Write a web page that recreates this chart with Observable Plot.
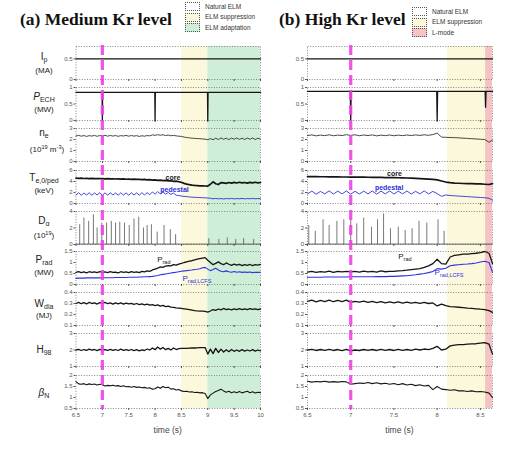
<!DOCTYPE html>
<html><head><meta charset="utf-8">
<script src="https://cdn.jsdelivr.net/npm/d3@7"></script>
<script src="https://cdn.jsdelivr.net/npm/@observablehq/plot@0.6"></script>
<style>
body{margin:0;background:#fff;}
#root{position:relative;width:515px;height:459px;overflow:hidden;background:#fff;}
.ylab{position:absolute;font-family:"Liberation Sans",Arial,sans-serif;color:#222;white-space:nowrap;transform:translate(-50%,-50%);line-height:1;}
.ylab.sym{font-size:10px;}
.ylab.unit{font-size:8px;}
.ylab sub{font-size:70%;vertical-align:-0.25em;line-height:0;}
.ylab sup{font-size:70%;vertical-align:0.45em;line-height:0;}
.title{position:absolute;font-family:"Liberation Serif",serif;font-weight:bold;font-size:17.5px;color:#111;white-space:nowrap;}
.xl{position:absolute;font-family:"Liberation Sans",sans-serif;font-size:8.5px;color:#444;transform:translateX(-50%);white-space:nowrap;}
.leg{position:absolute;font-family:"Liberation Sans",sans-serif;font-size:6.5px;color:#333;white-space:nowrap;}
.leg .box{position:absolute;left:0;width:15px;height:9px;border:1px dotted #555;box-sizing:border-box;}
.leg .txt{position:absolute;left:20px;top:0.5px;}
</style></head><body><div id="root"></div><script>
// ---------------- DATA ----------------
const timeL = [6.5,6.55,6.6,6.65,6.7,6.75,6.8,6.85,6.9,6.95,7,
7.05,7.1,7.15,7.2,7.25,7.3,7.35,7.4,7.45,7.5,
7.55,7.6,7.65,7.7,7.75,7.8,7.85,7.9,7.95,8,
8.05,8.1,8.15,8.2,8.25,8.3,8.35,8.4,8.45,8.5,
8.55,8.6,8.65,8.7,8.75,8.8,8.85,8.9,8.95,9,
9.05,9.1,9.15,9.2,9.25,9.3,9.35,9.4,9.45,9.5,
9.55,9.6,9.65,9.7,9.75,9.8,9.85,9.9,9.95,10];
const timeR = [6.5,6.55,6.6,6.65,6.7,6.75,6.8,6.85,6.9,6.95,7,
7.05,7.1,7.15,7.2,7.25,7.3,7.35,7.4,7.45,7.5,
7.55,7.6,7.65,7.7,7.75,7.8,7.85,7.9,7.95,8,
8.05,8.1,8.15,8.2,8.25,8.3,8.35,8.4,8.45,8.5,
8.55,8.6,8.64];

// Ip (MA)
const ipTimeL = [6.5,10], ipL = [0.5,0.5];
const ipTimeR = [6.5,8.64], ipR = [0.5,0.5];
// P_ECH (MW)
const pechTimeL = [6.5,6.995,7.0,7.005,7.995,8.0,8.005,8.995,9.0,9.005,10];
const pechL =     [0.85,0.85,0,0.85,0.85,0,0.85,0.85,0,0.85,0.85];
const pechTimeR = [6.5,6.995,7.0,7.005,7.995,8.0,8.005,8.555,8.56,8.565,8.64];
const pechR =     [0.88,0.88,0,0.88,0.88,0,0.88,0.88,0.4,0.88,0.88];

// n_e (1e19 m^-3)
const neL = [2.32,2.38,2.30,2.36,2.28,2.35,2.31,2.37,2.29,2.36,2.33,
2.38,2.30,2.37,2.31,2.36,2.29,2.35,2.32,2.37,2.30,
2.36,2.31,2.35,2.28,2.34,2.30,2.36,2.33,2.42,2.38,
2.44,2.39,2.43,2.36,2.40,2.34,2.37,2.33,2.30,2.28,
2.22,2.18,2.15,2.12,2.10,2.09,2.07,2.05,2.03,1.98,
2.08,1.98,2.12,2.00,2.14,2.02,2.12,1.99,2.13,2.02,
2.14,2.01,2.12,2.00,2.13,2.02,2.14,2.00,2.12,2.03];
const neR = [2.36,2.42,2.33,2.4,2.35,2.43,2.34,2.4,2.36,2.44,2.37,
2.43,2.34,2.41,2.36,2.42,2.33,2.4,2.35,2.41,2.34,
2.4,2.35,2.41,2.36,2.42,2.37,2.43,2.38,2.45,2.58,
2.22,2.2,2.18,2.17,2.15,2.12,2.1,2.07,2.05,2.02,
2.0,1.75,1.95];

// T_e core / pedestal (keV)
const teCoreL = [4.6,4.56,4.6,4.55,4.58,4.53,4.56,4.52,4.55,4.51,4.53,
4.48,4.51,4.46,4.49,4.45,4.47,4.43,4.46,4.41,4.44,
4.39,4.42,4.37,4.4,4.33,4.37,4.3,4.34,4.24,4.28,
4.2,4.24,4.15,4.19,4.1,4.13,4.03,4.06,3.96,3.85,
3.66,3.52,3.42,3.34,3.28,3.24,3.21,3.19,3.18,3.17,
3.5,3.95,3.6,3.45,3.8,3.75,3.65,3.82,3.7,3.85,
3.72,3.86,3.74,3.82,3.7,3.84,3.76,3.86,3.74,3.82];
const tePedL = [1.55,1.95,1.5,1.9,1.55,1.95,1.5,1.92,1.55,1.95,1.52,
1.93,1.5,1.95,1.55,1.9,1.5,1.95,1.52,1.92,1.5,
1.95,1.55,1.92,1.5,1.95,1.55,1.98,1.6,2.1,1.7,
2.15,1.75,2.1,1.7,2.0,1.65,1.9,1.5,1.45,1.35,
1.3,1.25,1.2,1.15,1.12,1.1,1.08,1.05,1.02,1.0,
0.95,0.85,0.92,0.85,0.9,0.82,0.9,0.85,0.92,0.84,
0.9,0.85,0.92,0.84,0.9,0.86,0.92,0.85,0.9,0.86];
const teCoreR = [4.9,4.88,4.88,4.86,4.86,4.85,4.84,4.84,4.82,4.82,4.8,
4.8,4.78,4.78,4.77,4.76,4.75,4.74,4.72,4.72,4.7,
4.68,4.66,4.64,4.6,4.56,4.52,4.48,4.44,4.38,4.3,
4.1,3.9,3.8,3.72,3.68,3.64,3.62,3.6,3.58,3.56,
3.5,3.45,3.6];
const tePedR = [1.75,2.25,1.7,2.2,1.75,2.3,1.72,2.25,1.75,2.28,1.7,
2.22,1.72,2.25,1.75,2.28,1.7,2.25,1.74,2.3,1.72,
2.25,1.75,2.28,1.72,2.22,1.75,2.3,1.75,2.2,1.8,
1.3,1.55,1.45,1.4,1.35,1.3,1.25,1.2,1.15,1.1,
1.05,0.95,0.6];

// D_alpha spikes
const daTimeL = [6.57,6.65,6.74,6.83,6.9,6.99,7.08,7.17,7.25,7.33,7.42,7.51,7.6,7.69,7.78,7.85,7.93,8.04,8.17,8.29,8.39,9.02,9.21,9.37,9.53,9.68,9.87];
const daL =     [2.4,3.2,2.8,3.6,2.0,2.6,2.6,2.8,2.6,2.7,2.6,2.3,3.1,3.3,2.0,2.3,2.4,1.5,2.3,1.8,1.2,0.7,0.6,0.8,0.6,0.7,0.6];
const daTimeR = [6.515,6.59,6.68,6.75,6.84,6.92,7.0,7.07,7.15,7.24,7.31,7.38,7.46,7.55,7.63,7.71,7.79,7.88,8.01,8.08];
const daR =     [2.3,1.6,3.0,2.3,2.8,3.0,2.9,2.5,3.2,2.1,3.0,3.7,1.9,2.1,1.7,1.9,2.8,2.6,3.0,1.6];
const daBaseTimeL = [6.5,10], daBaseL = [0.05,0.05];
const daBaseTimeR = [6.5,8.64], daBaseR = [0.05,0.05];

// P_rad and P_rad,LCFS (MW)
const pradL = [0.55,0.58,0.54,0.57,0.53,0.58,0.55,0.57,0.54,0.58,0.55,
0.57,0.54,0.58,0.55,0.56,0.53,0.58,0.55,0.57,0.54,
0.58,0.55,0.57,0.54,0.6,0.57,0.62,0.6,0.66,0.7,
0.74,0.8,0.78,0.84,0.86,0.85,0.9,0.88,0.93,0.96,
1.0,1.03,1.06,1.08,1.12,1.15,1.18,1.2,1.22,1.1,
1.0,0.9,0.96,1.03,0.95,0.9,0.98,0.92,0.87,0.93,
0.88,0.92,0.86,0.9,0.87,0.91,0.86,0.9,0.88,0.91];
const pradLcfsL = [0.28,0.29,0.29,0.29,0.3,0.3,0.3,0.3,0.3,0.3,0.31,
0.31,0.31,0.31,0.31,0.32,0.32,0.32,0.32,0.32,0.33,
0.33,0.33,0.33,0.34,0.34,0.35,0.35,0.36,0.37,0.39,
0.41,0.44,0.46,0.48,0.5,0.52,0.54,0.56,0.58,0.6,
0.62,0.63,0.65,0.66,0.68,0.69,0.72,0.76,0.78,0.7,
0.63,0.68,0.74,0.66,0.6,0.58,0.62,0.58,0.56,0.59,
0.56,0.58,0.55,0.57,0.55,0.57,0.54,0.56,0.55,0.56];
const pradR = [0.56,0.6,0.55,0.59,0.56,0.61,0.55,0.6,0.57,0.6,0.57,
0.6,0.56,0.61,0.57,0.6,0.56,0.62,0.58,0.6,0.6,
0.62,0.63,0.65,0.68,0.7,0.72,0.78,0.85,0.95,1.15,
0.95,0.93,1.25,1.32,1.35,1.38,1.38,1.4,1.42,1.45,
1.5,1.42,0.95];
const pradLcfsR = [0.33,0.33,0.33,0.33,0.34,0.34,0.34,0.34,0.34,0.34,0.35,
0.35,0.35,0.35,0.35,0.35,0.36,0.36,0.36,0.37,0.37,
0.38,0.39,0.4,0.42,0.44,0.47,0.5,0.54,0.59,0.72,
0.7,0.74,0.85,0.88,0.9,0.92,0.93,0.95,0.98,1.02,
1.06,1.0,0.55];

// W_dia (MJ)
const wdiaL = [0.30,0.31,0.298,0.308,0.296,0.31,0.30,0.305,0.295,0.308,0.30,
0.31,0.298,0.305,0.295,0.306,0.297,0.305,0.294,0.304,0.296,
0.302,0.293,0.3,0.29,0.297,0.288,0.294,0.285,0.29,0.28,
0.287,0.276,0.283,0.272,0.276,0.268,0.264,0.26,0.258,0.255,
0.252,0.248,0.244,0.24,0.236,0.233,0.231,0.23,0.228,0.222,
0.232,0.245,0.238,0.25,0.242,0.255,0.245,0.25,0.242,0.252,
0.245,0.253,0.244,0.252,0.245,0.254,0.246,0.252,0.244,0.25];
const wdiaR = [0.32,0.33,0.315,0.328,0.318,0.33,0.316,0.328,0.318,0.33,0.31,
0.32,0.312,0.322,0.31,0.32,0.308,0.318,0.306,0.315,0.305,
0.314,0.304,0.312,0.303,0.31,0.302,0.31,0.3,0.305,0.278,
0.295,0.28,0.272,0.27,0.266,0.262,0.258,0.255,0.252,0.248,
0.245,0.235,0.22];

// H_98
const h98L = [2.0,2.04,1.97,2.03,1.98,2.05,1.99,2.03,1.96,2.04,2.0,
2.02,1.97,2.04,1.98,2.03,1.97,2.05,1.98,2.02,1.97,
2.03,1.96,2.02,1.95,2.01,1.97,2.06,2.0,2.12,2.02,
2.18,2.05,2.15,2.02,2.1,2.0,2.12,2.03,2.08,2.1,
2.1,2.1,2.11,2.12,2.12,2.13,2.14,2.15,2.15,1.75,
2.05,1.78,2.1,1.85,2.05,1.88,2.02,1.9,2.03,1.92,
2.0,1.92,2.02,1.93,2.0,1.94,2.02,1.93,2.0,1.95];
const h98R = [2.0,2.04,1.97,2.03,1.98,2.04,1.97,2.03,1.96,2.04,1.95,
2.0,1.97,2.03,1.98,2.03,1.97,2.04,1.98,2.03,1.97,
2.04,1.98,2.03,1.98,2.05,2.0,2.06,2.02,2.1,2.22,
2.0,2.05,2.25,2.3,2.32,2.33,2.35,2.37,2.38,2.42,
2.45,2.35,1.75];

// beta_N
const betaL = [1.72,1.62,1.6,1.63,1.58,1.62,1.59,1.61,1.57,1.6,1.58,
1.52,1.55,1.53,1.56,1.52,1.54,1.5,1.53,1.49,1.5,
1.47,1.5,1.46,1.48,1.44,1.46,1.42,1.44,1.38,1.4,
1.48,1.42,1.5,1.44,1.47,1.38,1.4,1.34,1.36,1.3,
1.27,1.28,1.25,1.26,1.23,1.24,1.21,1.22,1.18,0.95,
1.12,1.2,1.27,1.32,1.38,1.3,1.24,1.28,1.22,1.26,
1.22,1.27,1.21,1.25,1.28,1.22,1.26,1.2,1.24,1.22];
const betaR = [1.74,1.7,1.73,1.71,1.74,1.7,1.72,1.7,1.73,1.71,1.6,
1.63,1.66,1.64,1.68,1.63,1.67,1.62,1.65,1.6,1.64,
1.58,1.63,1.57,1.6,1.54,1.58,1.52,1.55,1.36,1.5,
1.38,1.36,1.33,1.35,1.3,1.31,1.27,1.3,1.26,1.27,
1.25,1.2,1.0];

// phase regions
const phaseNamesL = ["ELM suppression","ELM adaptation"];
const phaseStartL = [8.5, 9.0];
const phaseEndL   = [9.0, 10];
const phaseNamesR = ["ELM suppression","L-mode"];
const phaseStartR = [8.12, 8.56];
const phaseEndR   = [8.56, 8.64];
const eventTime = [7];

// annotations
const teLabels = ["core","pedestal"];
const teLabelTimeL = [8.2, 8.1], teLabelValL = [4.75, 2.45];
const teLabelTimeR = [7.42, 7.28], teLabelValR = [5.45, 2.9];
const pradLabels = ["P_{rad}","P_{rad,LCFS}"];
const pradLabelTimeL = [8.04, 8.52], pradLabelValL = [1.15, 0.27];
const pradLabelTimeR = [7.55, 7.97], pradLabelValR = [1.28, 0.55];

// axis ticks and labels
const xTicksL = [6.5,7,7.5,8,8.5,9,9.5,10];
const xTicksR = [6.5,7,7.5,8,8.5];
const rowDomains = [[0,0.8],[0,1],[0,3],[0,6],[0,4],[0,1.5],[0.1,0.4],[1,3],[0.5,2]];
const rowTicks = [[0,0.5],[0,0.5,1],[0,1,2,3],[0,2,4,6],[0,2,4],[0,0.5,1,1.5],[0.1,0.2,0.3,0.4],[1,2,3],[0.5,1,1.5,2]];
const ySymbols = ["I<sub>p</sub>","<i>P</i><sub>ECH</sub>","n<sub>e</sub>","T<sub>e,0/ped</sub>","D<sub>α</sub>","P<sub>rad</sub>","W<sub>dia</sub>","H<sub>98</sub>","<i>β</i><sub>N</sub>"];
const yUnits = ["(MA)","(MW)","(10<sup>19</sup> m<sup>-3</sup>)","(keV)","(10<sup>19</sup>)","(MW)","(MJ)","",""];
const titles = ["(a) Medium Kr level","(b) High Kr level"];
const legendL = ["Natural ELM","ELM suppression","ELM adaptation"];
const legendR = ["Natural ELM","ELM suppression","L-mode"];
const xLabel = "time (s)";

// ---------------- STYLE / LAYOUT ----------------
const C = {
  line:"#151515", blue:"#2f2fe0", magenta:"#f23fe6",
  phase:{"Natural ELM":"#ffffff","ELM suppression":"#fbf8dc","ELM adaptation":"#cfeed8","L-mode":"#f5c3c3"}
};
const rowTop = [46,87,128,170,211,251,292,333,375];
const rowH = 33;
const panels = [
  {left:52, ml:23.5, mr:3, w:211, domain:[6.5,10], xticks:xTicksL},
  {left:284, ml:23, mr:3, w:211, domain:[6.5,8.64], xticks:xTicksR}
];
const root = document.getElementById("root");
const pts = (ts, vs) => ts.map((t,i)=>({t, v:vs[i]}));
const baseStyle = {background:"transparent", fontSize:"6px", fontFamily:"'Liberation Sans',Arial,sans-serif", color:"#555", overflow:"visible"};

function place(node, left, top, z){
  node.style.position="absolute"; node.style.left=left+"px"; node.style.top=top+"px"; node.style.zIndex=z;
  node.style.maxWidth="none";
  root.appendChild(node);
}
function subify(svg){
  svg.querySelectorAll("text").forEach(t=>{
    const m = /^(.*)_\{(.*)\}$/.exec(t.textContent);
    if(!m) return;
    t.textContent = m[1];
    const s = document.createElementNS("http://www.w3.org/2000/svg","tspan");
    s.setAttribute("dy","2.2"); s.setAttribute("font-size","5.5px");
    s.textContent = m[2]; t.appendChild(s);
  });
}

function rowMarks(p, r){
  const L = p===0;
  const line = (ts, vs, o={}) => Plot.line(pts(ts,vs), {x:"t", y:"v", stroke:C.line, strokeWidth:1.1, ...o});
  switch(r){
    case 0: return [line(L?ipTimeL:ipTimeR, L?ipL:ipR, {strokeWidth:1.3})];
    case 1: return [line(L?pechTimeL:pechTimeR, L?pechL:pechR, {strokeWidth:1.3})];
    case 2: return [line(L?timeL:timeR, L?neL:neR, {strokeWidth:0.9, stroke:"#333"})];
    case 3: return [
      line(L?timeL:timeR, L?tePedL:tePedR, {stroke:C.blue, strokeWidth:0.9}),
      line(L?timeL:timeR, L?teCoreL:teCoreR, {strokeWidth:1.7}),
      Plot.text(teLabels, {x:(d,i)=>(L?teLabelTimeL:teLabelTimeR)[i], y:(d,i)=>(L?teLabelValL:teLabelValR)[i], text:d=>d,
        fill:(d,i)=>i===0?C.line:C.blue, fontWeight:"bold", fontSize:7, textAnchor:"start"})
    ];
    case 4: return [
      Plot.ruleX(pts(L?daTimeL:daTimeR, L?daL:daR), {x:"t", y1:0, y2:"v", stroke:"#555", strokeWidth:0.8}),
      line(L?daBaseTimeL:daBaseTimeR, L?daBaseL:daBaseR, {strokeWidth:0.8, stroke:"#444"})
    ];
    case 5: return [
      line(L?timeL:timeR, L?pradLcfsL:pradLcfsR, {stroke:C.blue, strokeWidth:1.1}),
      line(L?timeL:timeR, L?pradL:pradR, {strokeWidth:1.3}),
      Plot.text(pradLabels, {x:(d,i)=>(L?pradLabelTimeL:pradLabelTimeR)[i], y:(d,i)=>(L?pradLabelValL:pradLabelValR)[i], text:d=>d,
        fill:(d,i)=>i===0?C.line:C.blue, fontSize:8, textAnchor:"start"})
    ];
    case 6: return [line(L?timeL:timeR, L?wdiaL:wdiaR, {strokeWidth:1.3})];
    case 7: return [line(L?timeL:timeR, L?h98L:h98R, {strokeWidth:1.3})];
    case 8: return [line(L?timeL:timeR, L?betaL:betaR, {strokeWidth:1.1})];
  }
}

panels.forEach((P, p)=>{
  // background phases
  const names = p===0?phaseNamesL:phaseNamesR, st = p===0?phaseStartL:phaseStartR, en = p===0?phaseEndL:phaseEndR;
  const bg = Plot.plot({
    width:P.w, height:rowTop[8]+rowH-rowTop[0], marginLeft:P.ml, marginRight:P.mr, marginTop:0, marginBottom:0,
    x:{domain:P.domain, axis:null}, y:{axis:null}, color:{type:"identity"}, style:baseStyle,
    marks:[Plot.rect(names.map((n,i)=>({n, a:st[i], b:en[i]})), {x1:"a", x2:"b", fill:d=>C.phase[d.n]})]
  });
  place(bg, P.left, rowTop[0], 0);

  for(let r=0;r<9;r++){
    const last = r===8, mt=3, mb = last?13:3;
    const svg = Plot.plot({
      width:P.w, height:rowH+mt+mb, marginLeft:P.ml, marginRight:P.mr, marginTop:mt, marginBottom:mb,
      x:{domain:P.domain}, y:{domain:rowDomains[r]}, style:baseStyle,
      marks:[
        Plot.frame({stroke:"#666", strokeWidth:0.8, strokeDasharray:"1,1.6"}),
        Plot.axisY({ticks:rowTicks[r], tickSize:2, tickPadding:1.5, label:null, tickFormat:d=>String(d)}),
        Plot.axisX({ticks:P.xticks, tickSize:2, tickPadding:2, label:null, tickFormat: last?(d=>String(d)):(()=>"")}),
        ...rowMarks(p, r)
      ]
    });
    subify(svg);
    place(svg, P.left, rowTop[r]-mt, 1);
  }

  // event line overlay
  const ov = Plot.plot({
    width:P.w, height:rowTop[8]+rowH-rowTop[0]+2, marginLeft:P.ml, marginRight:P.mr, marginTop:0, marginBottom:0,
    x:{domain:P.domain, axis:null}, y:{axis:null}, style:baseStyle,
    marks:[Plot.ruleX(eventTime, {stroke:C.magenta, strokeWidth:3.2, strokeDasharray:"10,5", strokeOpacity:0.9})]
  });
  place(ov, P.left, rowTop[0]-1, 2);

  // x label
  const xl = document.createElement("div"); xl.className="xl"; xl.textContent = xLabel;
  xl.style.left = (P.left + P.ml + (P.w-P.ml-P.mr)/2) + "px"; xl.style.top = "425px"; root.appendChild(xl);
});

// y labels
const symY = [57,97,133,178,221,260,304,350,393];
const unitY = [71,110,150,191,236,273,316,0,0];
ySymbols.forEach((s,i)=>{
  const d = document.createElement("div"); d.className="ylab sym"; d.innerHTML=s;
  d.style.left="44px"; d.style.top=symY[i]+"px"; root.appendChild(d);
  if(yUnits[i]){
    const u = document.createElement("div"); u.className="ylab unit"; u.innerHTML=yUnits[i];
    u.style.left = (i===2?"47px":"44px"); u.style.top=unitY[i]+"px"; root.appendChild(u);
  }
});

// titles
[[20,9],[279,9]].forEach((pos,i)=>{
  const t=document.createElement("div"); t.className="title"; t.textContent=titles[i];
  t.style.left=pos[0]+"px"; t.style.top=pos[1]+"px"; root.appendChild(t);
});

// legends
function legend(items, left, top, gap){
  items.forEach((name,i)=>{
    const g=document.createElement("div"); g.className="leg"; g.style.left=left+"px"; g.style.top=(top+i*gap)+"px";
    const b=document.createElement("div"); b.className="box"; b.style.background=C.phase[name];
    const t=document.createElement("div"); t.className="txt"; t.textContent=name;
    g.appendChild(b); g.appendChild(t); root.appendChild(g);
  });
}
legend(legendL, 185, 2, 10.5);
legend(legendR, 412, 7, 10.5);
</script></body></html>
